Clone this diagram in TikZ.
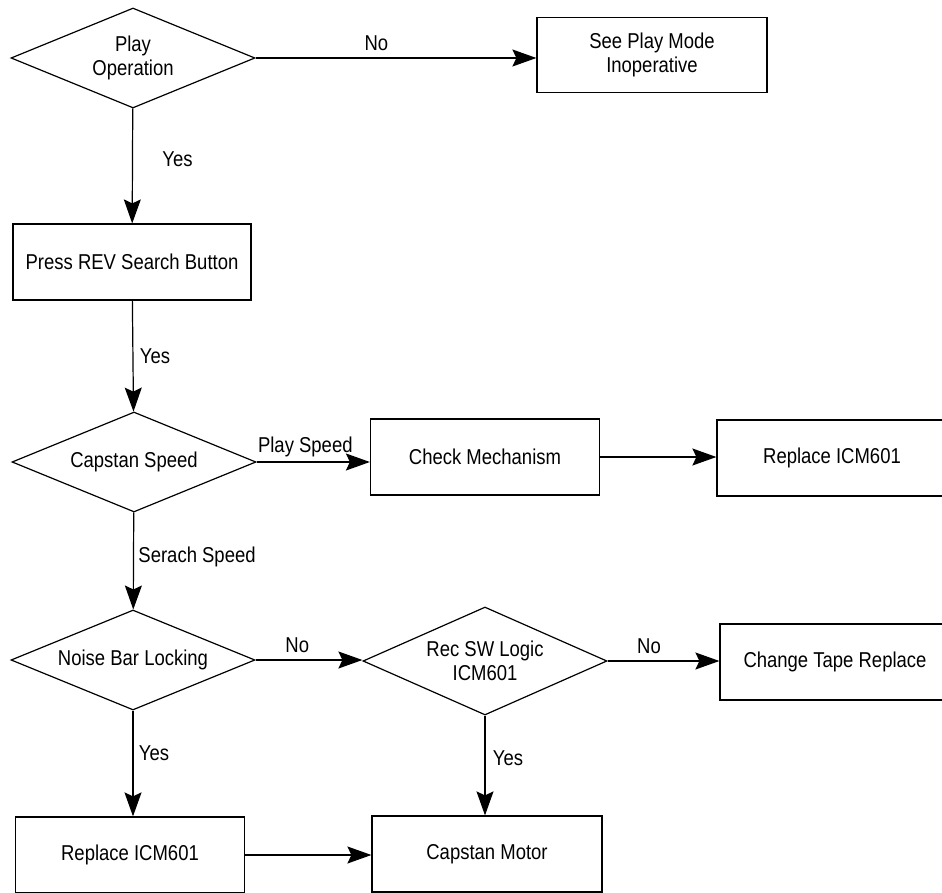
\documentclass[tikz,border=0pt]{standalone}
\usepackage{fontspec}
\setmainfont{Liberation Sans}[FakeStretch=0.86]
\usepackage{tikz}
\usetikzlibrary{arrows.meta, positioning, shapes.geometric}

\begin{document}
\begin{tikzpicture}[
    x=1pt, y=-1pt,
    font=\fontsize{21.5}{24}\selectfont,
    >={Stealth[length=24pt, width=17pt, inset=4pt]},
    block/.style={draw, line width=1.2pt, minimum width=#1, minimum height=76pt,
        inner sep=2pt, align=center},
    block/.default=230pt,
    decision/.style={draw, diamond, line width=1.2pt, aspect=2.4, inner sep=0pt,
        minimum width=244pt, minimum height=100pt, align=center},
    arr/.style={->, line width=1.2pt},
]
\useasboundingbox (0,0) rectangle (942,893);
\clip (0,0) rectangle (942,893);
\node[decision]                     (play)     at (133,58)  {Play\\Operation};
\node[block, minimum height=75pt]   (seeplay)  at (652,55)  {See Play Mode\\Inoperative};
\node[block=238pt]                  (press)    at (132,262) {Press REV Search Button};
\node[decision]                     (capspeed) at (134,462) {Capstan Speed};
\node[block=229pt]                  (chkmech)  at (485,457) {Check Mechanism};
\node[block]                        (replaceA) at (832,458) {Replace ICM601};
\node[decision]                     (noisebar) at (133,660) {Noise Bar Locking};
\node[decision, minimum height=108pt] (recsw)  at (485,661) {Rec SW Logic\\ICM601};
\node[block]                        (chgtape)  at (835,662) {Change Tape Replace};
\node[block=229pt]                  (replaceB) at (130,855) {Replace ICM601};
\node[block]                        (capmotor) at (487,854) {Capstan Motor};
%% Arrows
\draw[arr] (play.east) -- (play.east -| seeplay.west) node[pos=0.43, above=3pt] {No};
\draw[arr] (play) -- (press) node[pos=0.44, right=26pt] {Yes};
\draw[arr] (press) -- (capspeed) node[midway, right=3pt] {Yes};
\draw[arr] (capspeed.east) -- (capspeed.east -| chkmech.west) node[pos=0.43, above=1pt] {Play Speed};
\draw[arr] (chkmech.east) -- (chkmech.east -| replaceA.west);
\draw[arr] (capspeed) -- (noisebar) node[pos=0.46, right=1pt] {Serach Speed};
\draw[arr] (noisebar.east) -- (noisebar.east -| recsw.west) node[pos=0.39, above=3pt] {No};
\draw[arr] (recsw.east) -- (recsw.east -| chgtape.west) node[pos=0.37, above=3pt] {No};
\draw[arr] (noisebar.south) -- (noisebar.south |- replaceB.north) node[pos=0.4, right=2pt] {Yes};
\draw[arr] (recsw.south) -- (recsw.south |- capmotor.north) node[pos=0.43, right=4pt] {Yes};
\draw[arr] (replaceB.east) -- (replaceB.east -| capmotor.west);
\end{tikzpicture}
\end{document}
